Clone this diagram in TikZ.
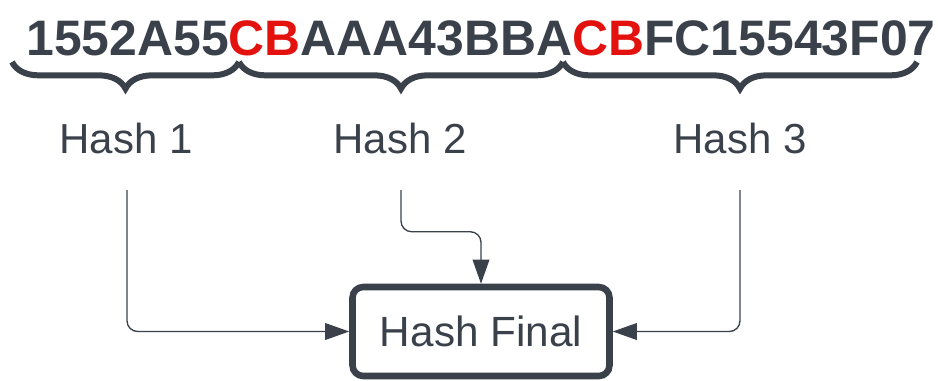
\documentclass[tikz,border=0pt]{standalone}
\usepackage{fontspec}
\setmainfont{Liberation Sans}
\usetikzlibrary{arrows.meta,decorations.pathreplacing}
\definecolor{ink}{HTML}{3A414B}
\definecolor{hot}{HTML}{E3120F}
\tikzset{
  lbl/.style={text=ink,font=\fontsize{31.5}{36}\selectfont,inner sep=0pt,anchor=base},
  brc/.style={draw=ink,line width=4.5pt,decorate,decoration={brace,mirror,amplitude=20pt}},
  link/.style={draw=ink,line width=1pt,rounded corners=8pt,-{Triangle[length=18pt,width=12.5pt]}},
}
\begin{document}
\begin{tikzpicture}[x=0.75pt,y=-0.75pt]
\useasboundingbox (0,0) rectangle (938,380);
% hex string
\node[anchor=base,inner sep=0pt,text=ink,font=\bfseries\fontsize{37.4}{40}\selectfont] (hex) at (481,55)
  {1552A55\textcolor{hot}{CB}AAA43BBA\textcolor{hot}{CB}FC15543F07};
% braces
\coordinate (b0) at (12,62);
\coordinate (b1) at (239,62);
\coordinate (b2) at (563,62);
\coordinate (b3) at (917,62);
\draw[brc] (b0)--(b1);
\draw[brc] (b1)--(b2);
\draw[brc] (b2)--(b3);
% labels
\node[lbl] (h1) at (126,153) {Hash 1};
\node[lbl] (h2) at (400,153) {Hash 2};
\node[lbl] (h3) at (740,153) {Hash 3};
\coordinate (s1) at (127,190);
\coordinate (s2) at (401,190);
\coordinate (s3) at (740,190);
% final box
\node[draw=ink,line width=4.9pt,rounded corners=8pt,minimum width=192.75pt,minimum height=66.75pt,
  text=ink,font=\fontsize{31.7}{36}\selectfont] (fin) at (481,331.5) {Hash Final};
% connectors
\draw[link] (s1) |- (fin.west);
\draw[link] (s2) |- ([yshift=39pt]fin.north) -- (fin.north);
\draw[link] (s3) |- (fin.east);
\end{tikzpicture}
\end{document}
